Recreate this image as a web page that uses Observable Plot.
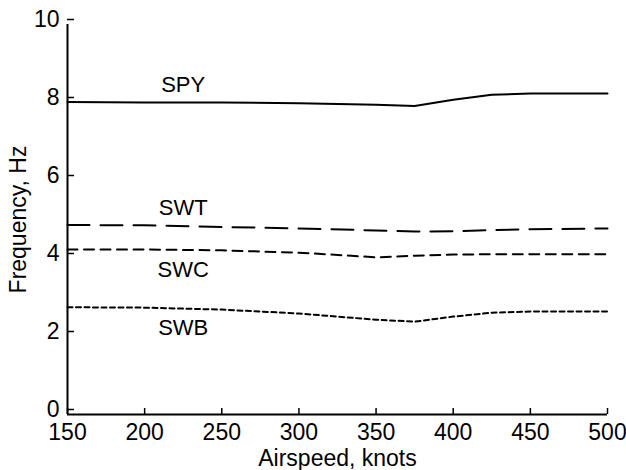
<!DOCTYPE html>
<html><head><meta charset="utf-8">
<script src="https://cdn.jsdelivr.net/npm/d3@7"></script>
<script src="https://cdn.jsdelivr.net/npm/@observablehq/plot@0.6"></script>
<style>body{margin:0;background:#fff}</style>
</head><body><div id="chart"></div>
<script>
const airspeed = [150, 200, 250, 300, 350, 375, 400, 425, 450, 500];
const spy = [8.01, 8.00, 8.00, 7.98, 7.94, 7.91, 8.07, 8.20, 8.23, 8.23];
const swt = [4.86, 4.85, 4.81, 4.77, 4.72, 4.69, 4.70, 4.73, 4.75, 4.77];
const swc = [4.23, 4.23, 4.21, 4.15, 4.03, 4.07, 4.10, 4.11, 4.11, 4.11];
const swb = [2.75, 2.74, 2.69, 2.59, 2.43, 2.38, 2.51, 2.61, 2.64, 2.64];
const seriesNames = ["SPY", "SWT", "SWC", "SWB"];
const labelX = [225, 225, 225, 225];
const labelY = [8.44, 5.29, 3.71, 2.22];
const xTicks = [150, 200, 250, 300, 350, 400, 450, 500];
const yTicks = [0, 2, 4, 6, 8, 10];

const seriesValues = [spy, swt, swc, swb];
const dashes = ["none", "22,11", "10,6.5", "5,3.5"];
const rows = seriesNames.flatMap((name, i) =>
  airspeed.map((x, j) => ({series: name, x, y: seriesValues[i][j]})));
const labels = seriesNames.map((name, i) => ({name, x: labelX[i], y: labelY[i]}));

const chart = Plot.plot({
  width: 626,
  height: 470,
  marginLeft: 67,
  marginRight: 19,
  marginTop: 24,
  marginBottom: 56,
  style: {fontFamily: "'Liberation Sans', Arial, Helvetica, sans-serif", fontSize: "23px", color: "#000", background: "#fff"},
  x: {domain: [150, 500]},
  y: {domain: [0, 10]},
  marks: [
    Plot.axisX({ticks: xTicks, tickSize: -6, tickPadding: 15, tickFormat: d => String(d), strokeWidth: 1.5, fontSize: 23, label: null}),
    Plot.axisY({ticks: yTicks, tickSize: -7, tickPadding: 15, dy: -5, tickFormat: d => String(d), strokeWidth: 1.5, fontSize: 23, label: null}),
    Plot.ruleY([0], {strokeWidth: 2}),
    Plot.ruleX([150], {strokeWidth: 2}),
    ...seriesNames.map((name, i) =>
      Plot.line(rows.filter(r => r.series === name), {x: "x", y: "y", stroke: "#000", strokeWidth: 2, strokeDasharray: dashes[i]})),
    Plot.text(labels, {x: "x", y: "y", text: "name", fontSize: 22, fill: "#000"}),
    Plot.text(["Airspeed, knots"], {frameAnchor: "bottom", lineAnchor: "middle", dy: 44, fontSize: 23, fill: "#000"}),
    Plot.text(["Frequency, Hz"], {frameAnchor: "left", textAnchor: "middle", lineAnchor: "middle", dx: -49, rotate: -90, fontSize: 23, fill: "#000"})
  ]
});
document.getElementById("chart").append(chart);
</script>
</body></html>
